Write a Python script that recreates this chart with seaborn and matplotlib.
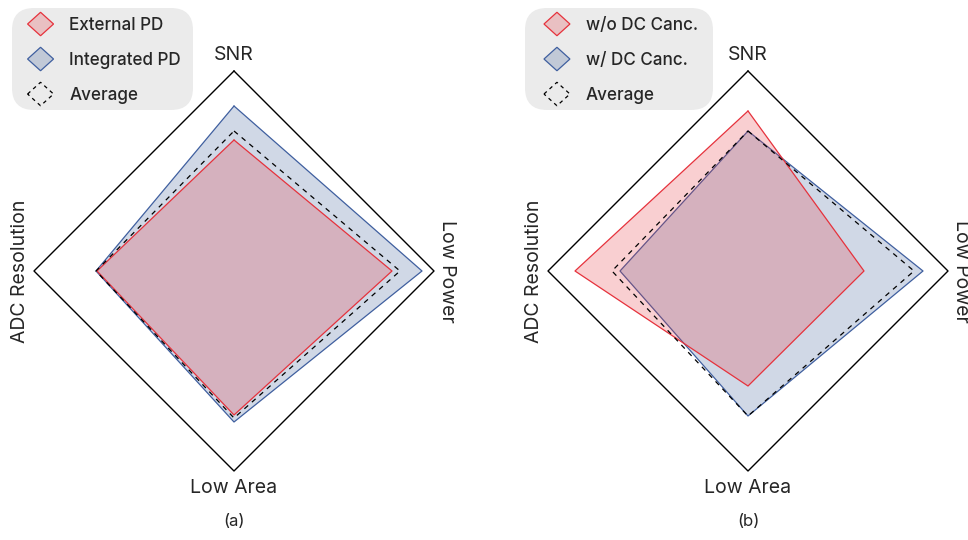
import numpy as np
import pandas as pd
import matplotlib
matplotlib.use("Agg")
import matplotlib.pyplot as plt
import matplotlib.patches as mpatches
from matplotlib.transforms import IdentityTransform
from matplotlib.legend_handler import HandlerPatch
from matplotlib.colors import to_rgba
import seaborn as sns

# ---------------- data ----------------
axis_labels = ["SNR", "Low Power", "Low Area", "ADC Resolution"]
axis_angles_deg = [90, 0, 270, 180]

# panel (a)
external_pd = [0.655, 0.79, 0.72, 0.685]
integrated_pd = [0.825, 0.94, 0.755, 0.69]
average_a = [0.70, 0.83, 0.735, 0.69]

# panel (b)
wo_dc_canc = [0.80, 0.58, 0.575, 0.865]
w_dc_canc = [0.70, 0.875, 0.725, 0.64]
average_b = [0.70, 0.83, 0.725, 0.68]

panel_names = ["(a)", "(b)"]
legend_a = ["External PD", "Integrated PD", "Average"]
legend_b = ["w/o DC Canc.", "w/ DC Canc.", "Average"]

# ---------------- style ----------------
sns.set_theme(style="white")
plt.rcParams['font.family'] = ['Inter', 'DejaVu Sans']

RED = "#e6323c"
BLUE = "#3f5f9f"
RED_FILL = to_rgba(RED, 0.23)
BLUE_FILL = to_rgba("#46649f", 0.25)

W, H, DPI = 968, 540, 100
fig = plt.figure(figsize=(W / DPI, H / DPI), dpi=DPI)
fig.patch.set_facecolor("white")

L = 1.1
R_PX = 200
LEG_FS = 12.3


def to_xy(vals):
    th = np.deg2rad(axis_angles_deg)
    v = np.asarray(vals, dtype=float)
    x = v * np.cos(th)
    y = v * np.sin(th)
    return np.append(x, x[0]), np.append(y, y[0])


def draw_series(ax, vals, edge, fill, lw=0.9, ls="-", z=2):
    x, y = to_xy(vals)
    if fill is not None:
        ax.fill(x, y, color=fill, lw=0, zorder=z)
    df = pd.DataFrame({"x": x, "y": y})
    sns.lineplot(data=df, x="x", y="y", sort=False, estimator=None,
                 color=edge, lw=lw, linestyle=ls, ax=ax, legend=False,
                 zorder=z + 0.5)


def diamond(legend, orig_handle, xdescent, ydescent, width, height, fontsize):
    cx = -xdescent + width / 2
    cy = -ydescent + height / 2
    hw, hh = width / 2, height / 2
    return mpatches.Polygon([[cx - hw, cy], [cx, cy + hh], [cx + hw, cy], [cx, cy - hh]],
                            closed=True)


def make_panel(cx_px, cy_px, red_vals, blue_vals, avg_vals, names, panel_label,
               box_px, leg_anchor_px):
    half = R_PX * L
    ax = fig.add_axes([(cx_px - half) / W, (H - cy_px - half) / H,
                       2 * half / W, 2 * half / H])
    ax.set_xlim(-L, L)
    ax.set_ylim(-L, L)
    ax.axis("off")

    # outer frame
    draw_series(ax, [1, 1, 1, 1], "black", None, lw=1.0, z=1)
    # series
    draw_series(ax, blue_vals, BLUE, BLUE_FILL, lw=0.9, z=2)
    draw_series(ax, red_vals, RED, RED_FILL, lw=0.9, z=3)
    draw_series(ax, avg_vals, "black", None, lw=0.9, ls=(0, (4, 4)), z=4)

    fs = 14
    ax.text(0, 1.035, axis_labels[0], ha="center", va="bottom", fontsize=fs, clip_on=False)
    ax.text(1.02, 0, axis_labels[1], ha="left", va="center", rotation=270,
            fontsize=fs, clip_on=False)
    ax.text(0, -1.04, axis_labels[2], ha="center", va="top", fontsize=fs, clip_on=False)
    ax.text(-1.025, 0, axis_labels[3], ha="right", va="center", rotation=90,
            fontsize=fs, clip_on=False)
    ax.text(0, -1.255, panel_label, ha="center", va="center", fontsize=12, clip_on=False)

    # legend background box
    x0, y0, x1, y1 = box_px
    box = mpatches.FancyBboxPatch((x0, H - y1), x1 - x0, y1 - y0,
                                  boxstyle="round,pad=0,rounding_size=22",
                                  transform=IdentityTransform(),
                                  facecolor="#ebebeb", edgecolor="none", zorder=0)
    fig.add_artist(box)

    handles = [
        mpatches.Patch(facecolor=RED_FILL, edgecolor=RED, linewidth=0.9, label=names[0]),
        mpatches.Patch(facecolor=BLUE_FILL, edgecolor=BLUE, linewidth=0.9, label=names[1]),
        mpatches.Patch(facecolor="none", edgecolor="black", linewidth=0.9,
                       linestyle=(0, (3, 3)), label=names[2]),
    ]
    fig.legend(handles=handles, loc="upper left",
               bbox_to_anchor=(leg_anchor_px[0] / W, 1 - leg_anchor_px[1] / H),
               frameon=False, prop={"size": LEG_FS, "weight": "medium"},
               handlelength=1.52, handleheight=1.737,
               handletextpad=0.92, borderpad=0.25, labelspacing=0.675,
               borderaxespad=0,
               handler_map={mpatches.Patch: HandlerPatch(patch_func=diamond)})
    return ax


make_panel(234, 271, external_pd, integrated_pd, average_a, legend_a, panel_names[0],
           (12, 8, 193, 110), (23.3, 8))
make_panel(748, 271, wo_dc_canc, w_dc_canc, average_b, legend_b, panel_names[1],
           (525, 8, 713, 110), (539.7, 8))

fig.savefig("out.png", dpi=DPI)
